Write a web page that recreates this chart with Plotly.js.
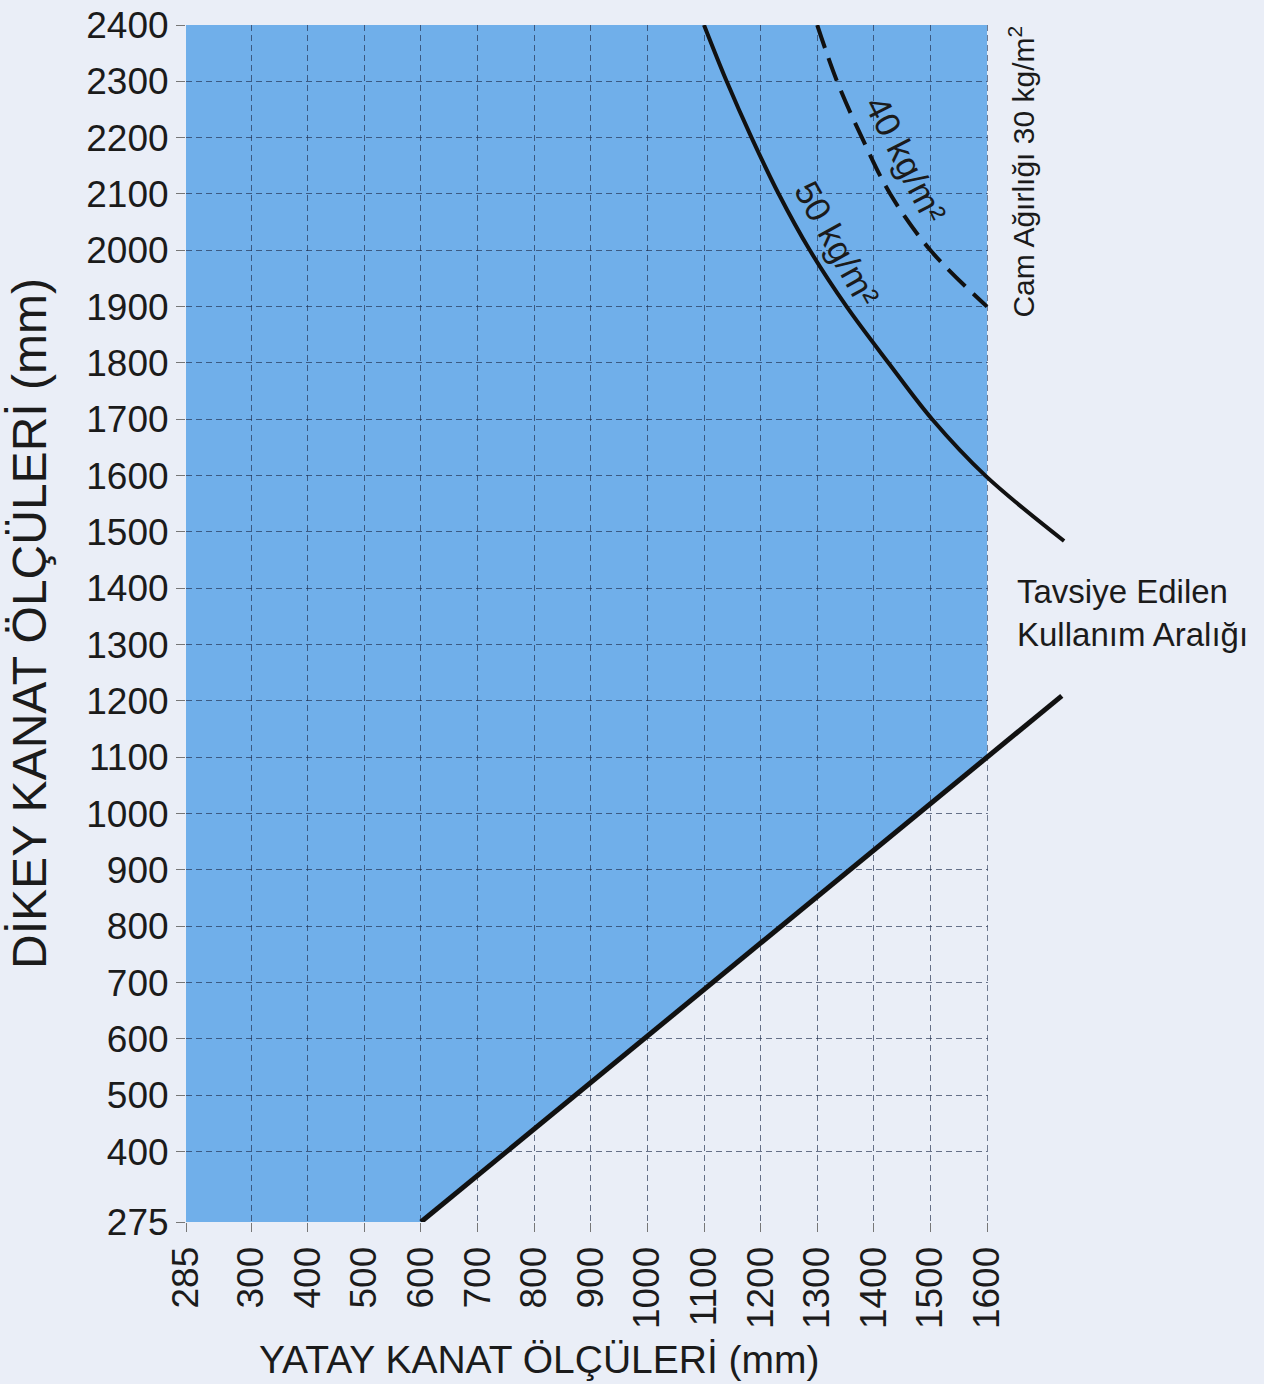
<!DOCTYPE html>
<html>
<head>
<meta charset="utf-8">
<script src="https://cdn.plot.ly/plotly-3.0.1.min.js"></script>
<style>html,body{margin:0;padding:0;background:#eaeef7;}</style>
</head>
<body>
<div id="chart" style="width:1264px;height:1384px;"></div>
<script>
// ---- data (mm) ----
const xTicks = [285, 300, 400, 500, 600, 700, 800, 900, 1000, 1100, 1200, 1300, 1400, 1500, 1600];
const yTicks = [275, 400, 500, 600, 700, 800, 900, 1000, 1100, 1200, 1300, 1400, 1500, 1600,
                1700, 1800, 1900, 2000, 2100, 2200, 2300, 2400];

// lower limit line (minimum dikey for a given yatay)
const minLineX = [600, 1600, 1732];
const minLineY = [275, 1100, 1209];

// glass weight 50 kg/m2 limit (solid)
const w50X = [1100, 1140, 1184, 1232, 1287, 1352, 1426, 1503, 1597, 1736];
const w50Y = [2400, 2300, 2200, 2100, 2000, 1900, 1800, 1700, 1600, 1484];

// glass weight 40 kg/m2 limit (dashed)
const w40X = [1300, 1335, 1379, 1429, 1500, 1600];
const w40Y = [2400, 2300, 2200, 2100, 2000, 1900];

// ---- axis construction ----
const xMin = 285, xMax = 1600, yMin = 275, yMax = 2400;
const BREAK_SPAN = 115;               // first x cell (285..300) is drawn as a full-width cell
function xPos(v) { return v >= 300 ? v : 300 - (300 - v) * (BREAK_SPAN / 15); }
const xRangeEnd = 1746.5;              // room for the curve tails beyond 1600

// shaded "recommended" region, built from the data arrays
let path = `M ${xPos(xMin)},${yMin} L ${minLineX[0]},${minLineY[0]}`;
for (let i = 1; i < minLineX.length; i++) {
  if (minLineX[i] <= xMax) path += ` L ${minLineX[i]},${minLineY[i]}`;
}
path += ` L ${xMax},${yMax} L ${xPos(xMin)},${yMax} Z`;

const BG = '#eaeef7';
const FONT = 'Liberation Sans, Arial, Helvetica, sans-serif';
const INK = '#1b1b1b';

const traces = [
  { x: minLineX, y: minLineY, type: 'scatter', mode: 'lines',
    line: { color: '#111', width: 5 }, hoverinfo: 'skip', showlegend: false },
  { x: w50X, y: w50Y, type: 'scatter', mode: 'lines',
    line: { color: '#111', width: 4, shape: 'spline' }, hoverinfo: 'skip', showlegend: false },
  { x: w40X, y: w40Y, type: 'scatter', mode: 'lines',
    line: { color: '#111', width: 4, shape: 'spline', dash: '24px,11px' }, hoverinfo: 'skip', showlegend: false }
];

const gridCol = 'rgba(30,45,75,0.65)';
const layout = {
  width: 1264, height: 1384, autosize: false,
  margin: { l: 186, r: 1264 - 1070, t: 25, b: 162 },
  paper_bgcolor: BG, plot_bgcolor: BG,
  font: { family: FONT, color: INK },
  showlegend: false,
  xaxis: {
    range: [xPos(xMin), xRangeEnd],
    tickmode: 'array', tickvals: xTicks.map(xPos), ticktext: xTicks.map(String),
    tickangle: -90, tickfont: { size: 37, family: FONT, color: INK },
    ticks: 'outside', ticklen: 9, tickcolor: '#777', tickwidth: 1,
    showgrid: true, gridcolor: gridCol, gridwidth: 1, griddash: '6px,4px',
    zeroline: false, showline: false, automargin: false
  },
  yaxis: {
    range: [yMin, yMax],
    tickmode: 'array', tickvals: yTicks, ticktext: yTicks.map(String),
    tickfont: { size: 37, family: FONT, color: INK },
    ticks: 'outside', ticklen: 9, tickcolor: '#777', tickwidth: 1,
    showgrid: true, gridcolor: gridCol, gridwidth: 1, griddash: '6px,4px',
    zeroline: false, showline: false, automargin: false,
    title: { text: 'DİKEY KANAT ÖLÇÜLERİ (mm)', font: { size: 48, family: FONT, color: INK }, standoff: 24 }
  },
  shapes: [
    { type: 'path', path: path, xref: 'x', yref: 'y', layer: 'below',
      fillcolor: '#70afea', line: { width: 0 } },
    { type: 'rect', xref: 'x', yref: 'y', layer: 'between',
      x0: xMax + 1.5, x1: xRangeEnd + 20, y0: yMin - 30, y1: yMax + 30,
      fillcolor: BG, line: { width: 0 } }
  ],
  annotations: [
    // x-axis title (placed under the gridded part of the axis, as in the original)
    { x: 810, y: -0.115, xref: 'x', yref: 'paper', yanchor: 'middle',
      text: 'YATAY KANAT ÖLÇÜLERİ (mm)', showarrow: false,
      font: { size: 39, family: FONT, color: INK } },
    { x: 1335, y: 2012, xref: 'x', yref: 'y', text: '50 kg/m²', textangle: 61,
      showarrow: false, font: { size: 35, family: FONT, color: INK } },
    { x: 1457, y: 2162, xref: 'x', yref: 'y', text: '40 kg/m²', textangle: 63,
      showarrow: false, font: { size: 35, family: FONT, color: INK } },
    { x: 1662, y: 2140, xref: 'x', yref: 'y', text: 'Cam Ağırlığı 30 kg/m<sup>2</sup>', textangle: -90,
      showarrow: false, font: { size: 30, family: FONT, color: INK } },
    { x: 1649, y: 1356, xref: 'x', yref: 'y', xanchor: 'left', align: 'left',
      text: 'Tavsiye Edilen<br>Kullanım Aralığı',
      showarrow: false, font: { size: 33, family: FONT, color: INK } }
  ]
};

Plotly.newPlot('chart', traces, layout, { displayModeBar: false, staticPlot: true });
</script>
</body>
</html>
